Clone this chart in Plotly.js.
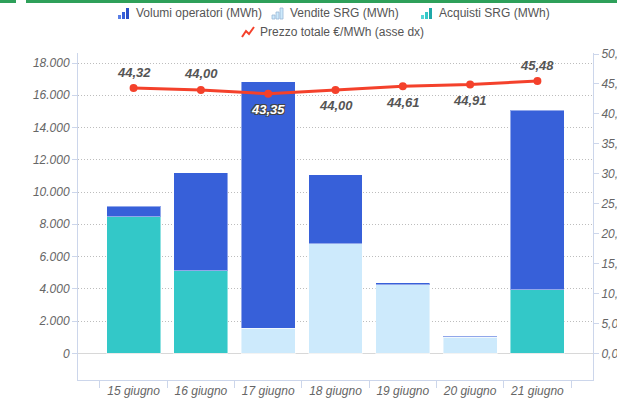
<!DOCTYPE html>
<html>
<head>
<meta charset="utf-8">
<script src="https://cdn.plot.ly/plotly-3.0.1.min.js"></script>
<style>
html,body{margin:0;padding:0;background:#fff;}
#chart{width:617px;height:403px;}
</style>
</head>
<body>
<div id="chart"></div>
<script>
// ---- data ----
const days = ['15 giugno','16 giugno','17 giugno','18 giugno','19 giugno','20 giugno','21 giugno'];
const volumiOperatori = [660, 6070, 15290, 4300, 110, 80, 11130];
const venditeSRG = [0, 0, 1550, 6780, 4260, 990, 0];
const acquistiSRG = [8470, 5130, 0, 0, 0, 0, 3950];
const prezzoTotale = [44.32, 44.00, 43.35, 44.00, 44.61, 44.91, 45.48];
const leftTicks = [0, 2000, 4000, 6000, 8000, 10000, 12000, 14000, 16000, 18000];
const rightTicks = [0, 5, 10, 15, 20, 25, 30, 35, 40, 45, 50];
const legendNames = ['Volumi operatori (MWh)', 'Vendite SRG (MWh)', 'Acquisti SRG (MWh)', 'Prezzo totale €/MWh (asse dx)'];

// ---- style ----
const FONT = '"Liberation Sans", Arial, Helvetica, sans-serif';
const C_VOL = '#3760d9', C_VEN = '#cdeafc', C_ACQ = '#33c8c8', C_LINE = '#f4412b';
const AXIS = '#ccd6eb';
const labelAbove = [true, true, false, false, false, false, true];
const labelOnBar = [false, false, true, false, false, false, false];

const M = {l: 78, r: 24, t: 53, b: 23};
const W = 617, H = 403;
const PW = W - M.l - M.r, PH = H - M.t - M.b;
const px = x => (x - M.l) / PW;
const py = y => (H - M.b - y) / PH;

const barLine = {color: 'rgba(255,255,255,0.45)', width: 1};
const traces = [
  {type: 'bar', x: days, y: acquistiSRG, name: legendNames[2], marker: {color: C_ACQ, line: barLine}, hoverinfo: 'y'},
  {type: 'bar', x: days, y: venditeSRG, name: legendNames[1], marker: {color: C_VEN, line: barLine}, hoverinfo: 'y'},
  {type: 'bar', x: days, y: volumiOperatori, name: legendNames[0], marker: {color: C_VOL, line: barLine}, hoverinfo: 'y'},
  {type: 'scatter', mode: 'lines+markers', x: days, y: prezzoTotale, yaxis: 'y2', name: legendNames[3],
   line: {color: C_LINE, width: 3}, marker: {color: C_LINE, size: 8}}
];

const fmt = v => v.toFixed(2).replace('.', ',');
const annotations = prezzoTotale.map((v, i) => ({
  x: days[i], y: v, xref: 'x', yref: 'y2', text: fmt(v), showarrow: false,
  yshift: labelAbove[i] ? 16 : -16,
  font: {family: FONT, size: 13, weight: 'bold', style: 'italic',
         color: labelOnBar[i] ? '#ffffff' : '#555555',
         shadow: labelOnBar[i] ? '1px 1px 0 #444, -1px -1px 0 #444, 1px -1px 0 #444, -1px 1px 0 #444' : 'none'}
}));

// custom legend
const shapes = [];
// green strip at top
shapes.push({type: 'rect', xref: 'paper', yref: 'paper', x0: px(0), x1: px(16), y0: py(3), y1: py(0), fillcolor: '#2ea05a', line: {width: 0}, layer: 'above'});
shapes.push({type: 'rect', xref: 'paper', yref: 'paper', x0: px(26), x1: px(617), y0: py(3), y1: py(0), fillcolor: '#2ea05a', line: {width: 0}, layer: 'above'});

function barIcon(x, yBase, fills, outline) {
  const hs = [4, 7, 11];
  for (let k = 0; k < 3; k++) {
    shapes.push({type: 'rect', xref: 'paper', yref: 'paper',
      x0: px(x + k * 4), x1: px(x + k * 4 + 3), y0: py(yBase), y1: py(yBase - hs[k]),
      fillcolor: fills[k], line: {width: outline ? 0.8 : 0, color: outline || fills[k]}, layer: 'above'});
  }
}
const row1 = 13, row2 = 32;
const legendItems = [
  {x: 118, row: row1, name: legendNames[0], icon: 'bar', fills: ['#5a7fe6', '#3760d9', '#2a4fc8']},
  {x: 272, row: row1, name: legendNames[1], icon: 'bar', fills: ['#cdeafc', '#cdeafc', '#cdeafc'], outline: '#9ab7d6'},
  {x: 421, row: row1, name: legendNames[2], icon: 'bar', fills: ['#55d6d6', '#33c8c8', '#1fa8a8']},
  {x: 242, row: row2, name: legendNames[3], icon: 'line'}
];
legendItems.forEach(it => {
  if (it.icon === 'bar') {
    barIcon(it.x, it.row + 6, it.fills, it.outline);
  } else {
    shapes.push({type: 'path', xref: 'paper', yref: 'paper',
      path: `M ${px(it.x)} ${py(it.row + 5)} L ${px(it.x + 4)} ${py(it.row - 1)} L ${px(it.x + 7)} ${py(it.row + 2)} L ${px(it.x + 12)} ${py(it.row - 5)}`,
      line: {color: C_LINE, width: 2}, layer: 'above'});
  }
  annotations.push({xref: 'paper', yref: 'paper', x: px(it.x + 16), y: py(it.row), xanchor: 'left', yanchor: 'middle',
    text: it.name, showarrow: false, font: {family: FONT, size: 12, color: '#555555'}});
});

const tickFont = {family: FONT, size: 12, color: '#666666', style: 'italic'};
const layout = {
  width: W, height: H, margin: M,
  paper_bgcolor: '#ffffff', plot_bgcolor: '#ffffff',
  showlegend: false, barmode: 'stack', bargap: 0.2,
  separators: ',.',
  font: {family: FONT},
  xaxis: {type: 'category', range: [-0.826, 6.826], tickson: 'boundaries', ticks: 'outside', ticklen: 7,
          tickcolor: AXIS, showline: true, linecolor: AXIS, showgrid: false, zeroline: false,
          tickfont: tickFont, fixedrange: true},
  yaxis: {range: [-1655, 18620], tickvals: leftTicks, tickformat: ',d', ticks: 'outside', ticklen: 5,
          tickcolor: AXIS, showline: true, linecolor: AXIS, showgrid: true, gridcolor: '#bdbdbd',
          griddash: '1px,2px', gridwidth: 1, zeroline: true, zerolinecolor: '#d8d8d8', zerolinewidth: 1,
          tickfont: tickFont},
  yaxis2: {overlaying: 'y', side: 'right', range: [-4.46, 50.17], tickvals: rightTicks, tickformat: '.2f',
           ticks: 'outside', ticklen: 5, tickcolor: AXIS, showline: true, linecolor: AXIS,
           showgrid: false, zeroline: false, tickfont: tickFont},
  annotations: annotations,
  shapes: shapes
};

Plotly.newPlot('chart', traces, layout, {displayModeBar: false, staticPlot: true});
</script>
</body>
</html>
